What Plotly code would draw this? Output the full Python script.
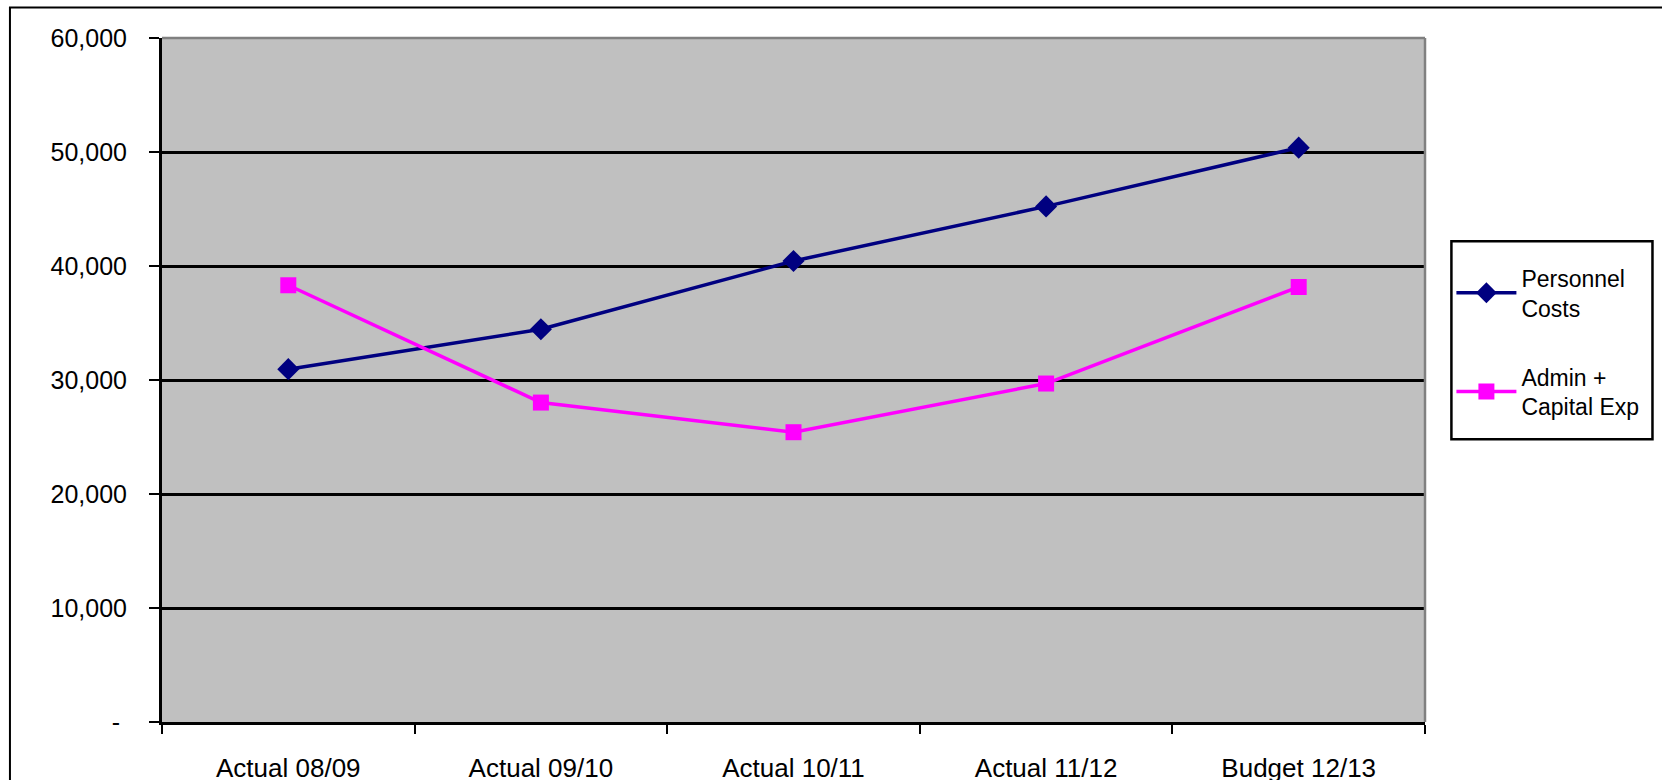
import plotly.graph_objects as go

# Spending by year
years = ["Actual 08/09", "Actual 09/10", "Actual 10/11", "Actual 11/12", "Budget 12/13"]
personnel_costs = [30950, 34450, 40440, 45230, 50380]
admin_capital_exp = [38310, 28020, 25420, 29690, 38160]

y_tick_vals = [0, 10000, 20000, 30000, 40000, 50000, 60000]
y_tick_text = ["-\u00a0", "10,000", "20,000", "30,000", "40,000", "50,000", "60,000"]

W, H = 1662, 780
L, R, T, B = 162, 1424.6, 37.5, 722
FONT = "Liberation Sans, Arial, sans-serif"


def px_to_paper_x(px):
    return (px - L) / (R - L)


def px_to_paper_y(py):
    return (B - py) / (B - T)


fig = go.Figure()
fig.add_trace(go.Scatter(
    x=years, y=personnel_costs, name="Personnel<br>Costs",
    mode="lines+markers", legendgroup="a",
    line=dict(color="#000080", width=3.5),
    marker=dict(symbol="diamond", size=17, color="#000080"),
))
fig.add_trace(go.Scatter(
    x=years, y=admin_capital_exp, name="Admin +<br>Capital Exp",
    mode="lines+markers", legendgroup="b",
    line=dict(color="#FF00FF", width=3.5),
    marker=dict(symbol="square", size=16, color="#FF00FF"),
))

fig.update_layout(
    width=W, height=H,
    margin=dict(l=L, r=W - R, t=T, b=H - B, pad=0, autoexpand=False),
    paper_bgcolor="white",
    plot_bgcolor="#C0C0C0",
    font=dict(family=FONT, size=25, color="black"),
    showlegend=True,
    legend=dict(
        x=px_to_paper_x(1451), y=px_to_paper_y(256),
        xanchor="left", yanchor="top",
        bgcolor="rgba(0,0,0,0)", borderwidth=0,
        font=dict(family=FONT, size=23, color="black"),
        tracegroupgap=36, itemwidth=60,
    ),
    xaxis=dict(
        type="category", range=[-0.5, 4.5], automargin=False,
        showline=True, linecolor="black", linewidth=3,
        ticks="outside", ticklen=9, tickwidth=2, tickcolor="black",
        tickson="boundaries", showgrid=False, zeroline=False,
        ticklabelstandoff=21, tickfont=dict(size=26),
    ),
    yaxis=dict(
        range=[0, 60000], tickvals=y_tick_vals, ticktext=y_tick_text,
        automargin=False,
        showline=True, linecolor="black", linewidth=3,
        ticks="outside", ticklen=10, tickwidth=2, tickcolor="black",
        showgrid=True, gridcolor="black", gridwidth=2.5, zeroline=False,
        ticklabelstandoff=17, tickfont=dict(size=25),
    ),
    shapes=[
        # plot-area frame on top and right
        dict(type="line", xref="paper", yref="paper", x0=0, x1=1, y0=1, y1=1,
             line=dict(color="#808080", width=2.5), layer="above"),
        dict(type="line", xref="paper", yref="paper", x0=1, x1=1, y0=0, y1=1,
             line=dict(color="#808080", width=2.5), layer="above"),
        # chart border
        dict(type="rect", xref="paper", yref="paper",
             x0=px_to_paper_x(10), x1=px_to_paper_x(W + 20),
             y0=px_to_paper_y(H + 20), y1=px_to_paper_y(7),
             line=dict(color="black", width=2), layer="below"),
        # legend box
        dict(type="rect", xref="paper", yref="paper",
             x0=px_to_paper_x(1451), x1=px_to_paper_x(1652),
             y0=px_to_paper_y(439), y1=px_to_paper_y(241),
             fillcolor="white", line=dict(color="black", width=2.5), layer="above"),
    ],
)

fig.write_html("out.html")
